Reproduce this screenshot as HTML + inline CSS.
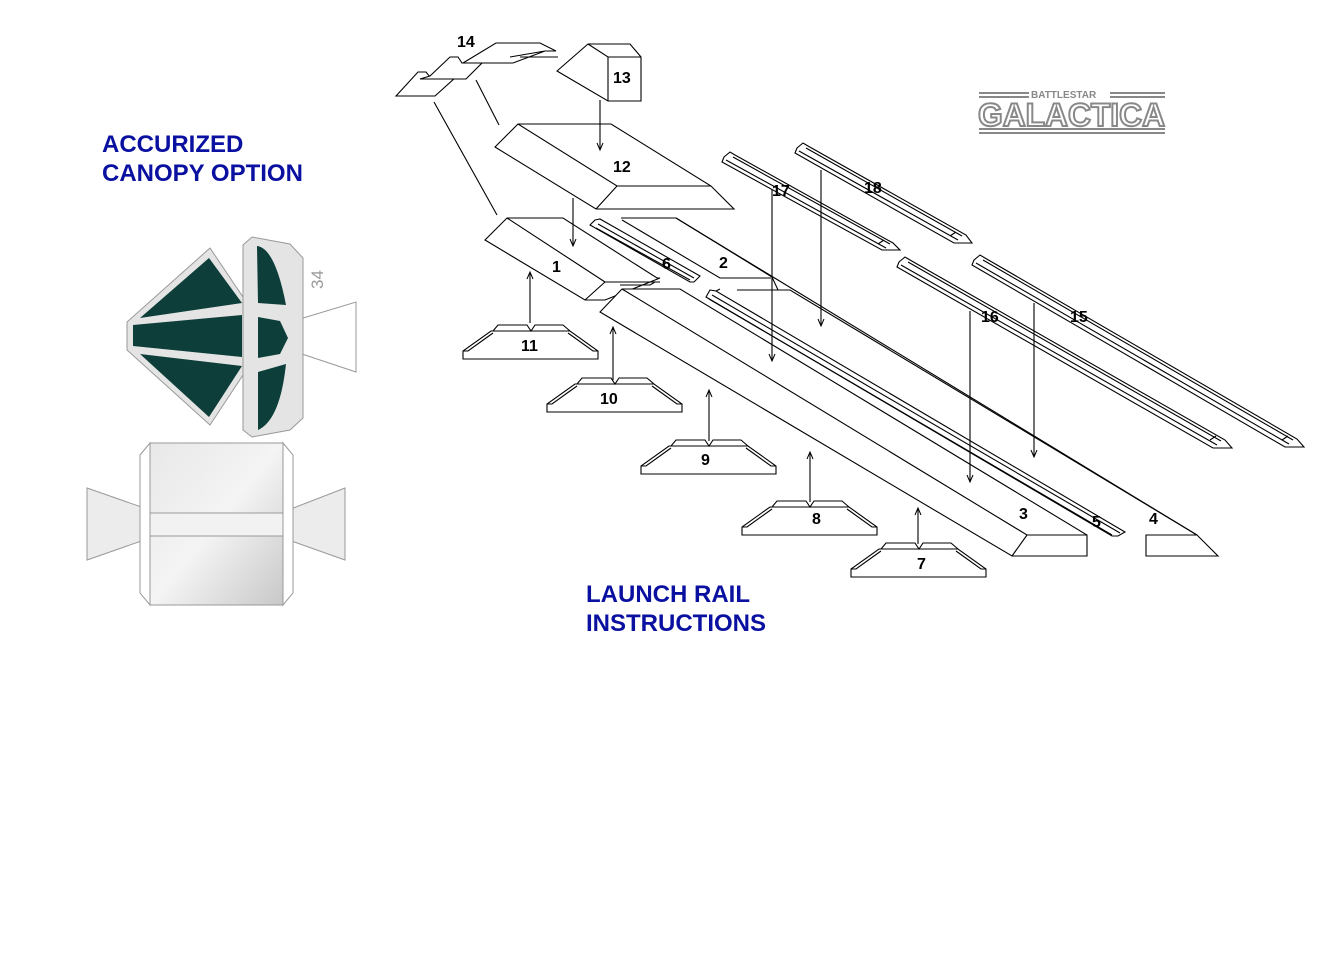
<!DOCTYPE html>
<html><head><style>
html,body{margin:0;padding:0;background:#fff;}
svg{display:block;}
.l{fill:none;stroke:#000;stroke-width:1.1;}
.w{fill:#fff;stroke:#000;stroke-width:1.1;}
.n{font-family:"Liberation Sans",sans-serif;font-weight:bold;font-size:16px;fill:#000;}
.t{font-family:"Liberation Sans",sans-serif;font-weight:bold;font-size:24px;fill:#0a10a0;}
</style></head><body>
<svg width="1338" height="966" viewBox="0 0 1338 966" xmlns="http://www.w3.org/2000/svg">
<defs>
<marker id="a" markerWidth="10" markerHeight="10" refX="8" refY="4" orient="auto" markerUnits="userSpaceOnUse">
<path d="M1,1 L8,4 L1,7" fill="none" stroke="#000" stroke-width="1"/></marker>
<g id="foot" class="l">
<path class="w" d="M0,0 V-8 L28,-28 H107 L135,-8 V0 Z"/>
<path d="M0,-8 L5,-8 L30,-26 M135,-8 L130,-8 L105,-26"/>
<path d="M30,-28 L35,-34 H64 L68,-28 L72,-34 H100 L107,-28"/>
</g>
<linearGradient id="g" x1="0" y1="0" x2="1" y2="1"><stop offset="0" stop-color="#e8e8e8"/><stop offset="0.5" stop-color="#f4f4f4"/><stop offset="1" stop-color="#c8c8c8"/></linearGradient>
</defs>

<text class="t" x="102" y="152">ACCURIZED</text>
<text class="t" x="102" y="181">CANOPY OPTION</text>
<text class="t" x="586" y="602">LAUNCH RAIL</text>
<text class="t" x="586" y="631">INSTRUCTIONS</text>

<g stroke="#999" stroke-width="1">
<polygon points="127,322 210,248 245,300 245,372 210,425 127,350" fill="#e4e4e4"/>
<polygon points="290,322 356,302 356,372 290,350" fill="#fff"/>
<polygon points="243,245 252,237 290,244 303,258 303,418 290,430 252,437 243,430" fill="#e4e4e4"/>
<polygon points="87,488 150,510 150,538 87,560" fill="#ececec"/>
<polygon points="283,512 345,488 345,560 283,538" fill="#ececec"/>
<polygon points="140,455 150,443 150,605 140,593" fill="#fff"/>
<polygon points="283,443 293,455 293,593 283,605" fill="#fff"/>
<rect x="150" y="443" width="133" height="162" fill="url(#g)"/>
<rect x="150" y="513" width="133" height="23" fill="#f2f2f2"/>
</g>
<g fill="#0d3e3a">
<polygon points="140,318 209,258 242,303"/>
<polygon points="133,325 242,315 242,357 133,346"/>
<polygon points="140,354 242,366 209,417"/>
<path d="M257,246 Q275,248 286,305 L258,303 Z"/>
<polygon points="258,317 280,321 288,338 280,354 258,358"/>
<path d="M258,372 L286,364 Q280,420 258,430 Z"/>
</g>
<text x="0" y="0" transform="translate(323,289) rotate(-90)" font-family="Liberation Sans,sans-serif" font-size="17" fill="#999">34</text>

<g fill="#888">
<rect x="979" y="92" width="50" height="2"/><rect x="979" y="96" width="50" height="2"/>
<rect x="1110" y="92" width="55" height="2"/><rect x="1110" y="96" width="55" height="2"/>
<rect x="979" y="128" width="186" height="2"/><rect x="979" y="132" width="186" height="2"/>
</g>
<text x="1031" y="98" font-family="Liberation Sans,sans-serif" font-weight="bold" font-size="10" fill="#888">BATTLESTAR</text>
<text x="978" y="126" font-family="Liberation Sans,sans-serif" font-weight="bold" font-size="32" fill="#fff" stroke="#888" stroke-width="2" textLength="187" lengthAdjust="spacingAndGlyphs">GALACTICA</text>

<g class="l">
<path class="w" d="M396,96 L418,72 L426,72 L430,77 L456,77 L435,96 Z"/>
<path class="w" d="M430,76 L450,57 L458,57 L462,63 L482,63 L466,79 L420,79 Z" />
<path class="w" d="M463,63 L496,43 L540,43 L556,51 L545,51 L513,63 Z M510,57 L545,51"/>
<path d="M520,57 H558"/>
</g>
<text class="n" x="457" y="47">14</text>

<g class="l">
<path class="w" d="M557,71 L588,44 H630 L641,57 V101 H608 Z"/>
<path d="M588,44 L608,57 H641 M608,57 V101"/>
</g>
<text class="n" x="613" y="83">13</text>

<path class="l" d="M434,102 L497,215 M476,80 L499,125"/>

<g class="l">
<path class="w" d="M495,147 L518,124 H611 L711,186 L734,209 H596 Z"/>
<path d="M518,124 L617,186 H711 M617,186 L596,209"/>
</g>
<text class="n" x="613" y="172">12</text>

<g class="l">
<path class="w" d="M485,240 L507,218 H563 L657,278 H660 L605,300 H585 Z"/>
<path d="M507,218 L605,282 L585,300 M605,282 H660"/>
<path d="M618,282 H655 L650,285 H620"/>
</g>
<text class="n" x="552" y="272">1</text>

<g class="l">
<path d="M595,220 L600,219 L700,276 L694,282 H690 L590,225 Z"/>
<path d="M598,224 L694,278 M596,228 L690,280"/>
</g>
<text class="n" x="662" y="269">6</text>

<path class="l" d="M621,218 H676 L772,277 L778,290 H789 M622,220 L720,278 H771"/>
<text class="n" x="719" y="268">2</text>

<g class="l">
<path class="w" d="M600,312 L622,289 H680 L1087,535 V556 H1012 Z"/>
<path d="M622,289 L1027,535 H1087 M1027,535 L1012,556"/>
</g>
<text class="n" x="1019" y="519">3</text>

<g class="l">
<path d="M737,290 H790 L1197,535 L1218,556 H1146 V535 H1197"/>
<path d="M676,218 L1197,535"/>
</g>
<text class="n" x="1149" y="524">4</text>

<g class="l">
<path d="M710,290 L716,291 L1125,532 L1118,536 H1112 L706,297 Z"/>
<path d="M712,295 L1120,533 M709,299 L1112,535 M716,291 L720,289"/>
</g>
<text class="n" x="1092" y="527">5</text>

<g class="l">
<path d="M724,157 L730,152 L735,155 L893,243 L900,250 H882 L722,162 Z M726,160 L886,248 M733,157 L890,244 M878,244 L884,240"/>
<path d="M797,148 L803,143 L808,146 L966,235 L972,243 H954 L795,153 Z M799,151 L958,240 M806,148 L962,236 M950,236 L956,232"/>
<path d="M899,262 L905,257 L910,260 L1225,440 L1232,448 H1213 L897,267 Z M901,265 L1217,445 M908,262 L1221,441 M1210,440 L1216,436"/>
<path d="M974,260 L980,255 L985,258 L1297,439 L1304,447 H1285 L972,265 Z M976,263 L1289,444 M983,260 L1293,440 M1282,440 L1288,436"/>
</g>
<text class="n" x="772" y="196">17</text>
<text class="n" x="864" y="193">18</text>
<text class="n" x="981" y="322">16</text>
<text class="n" x="1070" y="322">15</text>

<use href="#foot" x="463" y="359"/><text class="n" x="521" y="351">11</text>
<use href="#foot" x="547" y="412"/><text class="n" x="600" y="404">10</text>
<use href="#foot" x="641" y="474"/><text class="n" x="701" y="465">9</text>
<use href="#foot" x="742" y="535"/><text class="n" x="812" y="524">8</text>
<use href="#foot" x="851" y="577"/><text class="n" x="917" y="569">7</text>

<g class="l" marker-end="url(#a)">
<path d="M600,100 V150"/>
<path d="M573,198 V246"/>
<path d="M772,190 V361"/>
<path d="M821,170 V326"/>
<path d="M970,311 V482"/>
<path d="M1034,303 V457"/>
<path d="M530,323 V272"/>
<path d="M613,380 V327"/>
<path d="M709,441 V390"/>
<path d="M810,502 V452"/>
<path d="M918,544 V508"/>
</g>
</svg>
</body></html>
